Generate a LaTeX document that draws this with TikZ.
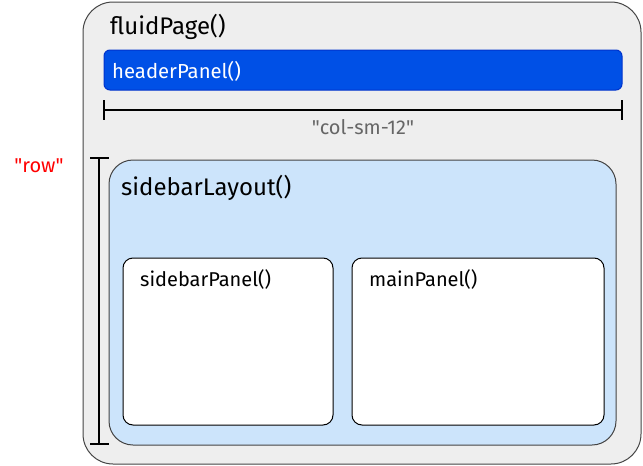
\documentclass[tikz,border=0pt]{standalone}
\usepackage{fontspec}
\setmainfont{Fira Sans}[Ligatures=TeXOff]
\definecolor{pagefill}{HTML}{EEEEEE}
\definecolor{pageline}{HTML}{444444}
\definecolor{hdrfill}{HTML}{0050E6}
\definecolor{hdrline}{HTML}{0033CC}
\definecolor{layfill}{HTML}{CCE4FB}
\definecolor{dimgray}{HTML}{666666}
\begin{document}
\begin{tikzpicture}[x=1pt,y=-1pt,
  box/.style={draw=pageline,line width=1pt},
  lbl/.style={anchor=west,inner sep=0pt},
  dim/.style={draw=black,line width=1.5pt},
]
\useasboundingbox (0,0) rectangle (643,466);
% outer page
\draw[box,fill=pagefill,rounded corners=30pt] (83,2) rectangle (641,464);
\node[lbl,font=\fontsize{24}{28}\selectfont] (fp) at (110,27) {fluidPage()};
% header
\draw[draw=hdrline,line width=1pt,fill=hdrfill,rounded corners=6pt] (104,50) rectangle (622,90);
\node[lbl,text=white,font=\fontsize{20.3}{24}\selectfont] (hp) at (112,71) {headerPanel()};
% horizontal dimension
\coordinate (h1) at (104,110);
\coordinate (h2) at (622,110);
\draw[dim] (h1) -- (h2);
\draw[dim] (104,100) -- (104,120);
\draw[dim] (622,100) -- (622,120);
\node[text=dimgray,inner sep=0pt,font=\fontsize{20}{24}\selectfont] (col) at (363,127) {"col-sm-12"};
% vertical dimension
\coordinate (v1) at (99,158);
\coordinate (v2) at (99,444);
\draw[dim] (v1) -- (v2);
\draw[dim] (90,158) -- (109,158);
\draw[dim] (90,444) -- (109,444);
\node[text=red,inner sep=0pt,font=\fontsize{20}{24}\selectfont] (row) at (39,166) {"row"};
% sidebar layout
\draw[box,fill=layfill,rounded corners=24pt] (109,160) rectangle (616,445);
\node[lbl,font=\fontsize{24}{28}\selectfont] (sl) at (121,188) {sidebarLayout()};
% panels
\draw[draw=black,line width=1pt,fill=white,rounded corners=10pt] (123,258) rectangle (333,425);
\node[lbl,font=\fontsize{20}{24}\selectfont] (sp) at (140,279) {sidebarPanel()};
\draw[draw=black,line width=1pt,fill=white,rounded corners=10pt] (352,258) rectangle (604,425);
\node[lbl,font=\fontsize{20}{24}\selectfont] (mp) at (369,279) {mainPanel()};
\end{tikzpicture}
\end{document}
